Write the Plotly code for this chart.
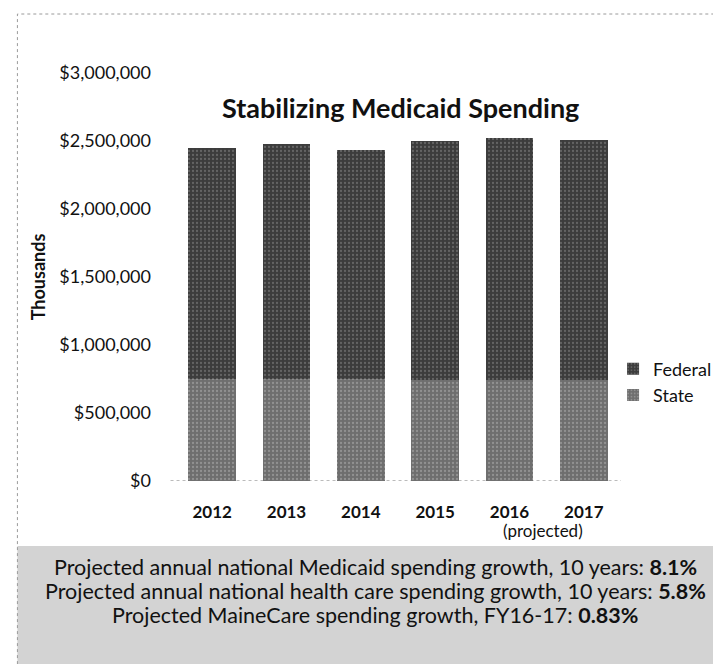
import plotly.graph_objects as go

years = ["2012", "2013", "2014", "2015", "2016", "2017"]
state = [752000, 748000, 748000, 745000, 745000, 745000]
federal = [1693000, 1732000, 1687000, 1755000, 1775000, 1765000]
tick_vals = [0, 500000, 1000000, 1500000, 2000000, 2500000, 3000000]
notes = [
    "Projected annual national Medicaid spending growth, 10 years: <b>8.1%</b>",
    "Projected annual national health care spending growth, 10 years: <b>5.8%</b>",
    "Projected MaineCare spending growth, FY16-17: <b>0.83%</b>",
]

W, H = 721, 664
ML, MR, MT, MB = 167, 104, 65, 191
ph = H - MT - MB
pw = W - ML - MR


def py(p):
    return (H - MB - p) / ph


def px(p):
    return (p - ML) / pw


FONT = "Lato"
INK = "#111111"

fig = go.Figure()
fig.add_trace(go.Bar(
    x=years, y=state, name="State", legendgroup="s",
    marker=dict(color="#7a7a7a", line=dict(width=0),
                pattern=dict(shape=".", fgcolor="#b4b4b4", bgcolor="#6e6e6e", size=4, solidity=0.25)),
))
fig.add_trace(go.Bar(
    x=years, y=federal, name="Federal", legendgroup="f",
    marker=dict(color="#484848", line=dict(width=0),
                pattern=dict(shape=".", fgcolor="#8c8c8c", bgcolor="#3c3c3c", size=4, solidity=0.25)),
))

shapes = [
    # bottom note box
    dict(type="rect", xref="paper", yref="paper", x0=px(8), x1=px(730), y0=py(538), y1=py(680),
         fillcolor="#d3d3d3", line=dict(width=0), layer="below"),
    # outer frame
    dict(type="rect", xref="paper", yref="paper", x0=px(8), x1=px(745), y0=py(700), y1=py(6),
         fillcolor="rgba(0,0,0,0)", line=dict(color="#9a9a9a", width=1, dash="dot")),
    # dotted baseline
    dict(type="line", xref="paper", yref="y", x0=-0.01, x1=1.0, y0=0, y1=0,
         line=dict(color="#777777", width=1, dash="dot")),
]

annotations = [
    dict(text="Stabilizing Medicaid Spending", xref="paper", yref="paper",
         x=px(395), y=py(99), showarrow=False, xanchor="center", yanchor="middle",
         font=dict(family=FONT, size=27, color=INK, weight="bold")),
    dict(text="(projected)", xref="x", yref="paper", x=4.45, y=py(522),
         showarrow=False, xanchor="center", yanchor="middle",
         font=dict(family=FONT, size=17, color=INK)),
]
for i, t in enumerate(notes):
    annotations.append(dict(text=t, xref="paper", yref="paper", x=px(369), y=py(559 + 24 * i),
                            showarrow=False, xanchor="center", yanchor="middle",
                            font=dict(family=FONT, size=21.5, color=INK)))

fig.update_layout(
    width=W, height=H,
    margin=dict(l=ML, r=MR, t=MT, b=MB),
    paper_bgcolor="white", plot_bgcolor="white",
    barmode="stack", bargap=0.355,
    font=dict(family=FONT, size=17, color=INK),
    showlegend=True,
    legend=dict(x=px(609), y=py(374), xanchor="left", yanchor="middle", traceorder="reversed",
                font=dict(family=FONT, size=18, color=INK), itemwidth=30,
                bgcolor="rgba(0,0,0,0)", tracegroupgap=12),
    xaxis=dict(showgrid=False, showline=False, ticks="", tickfont=dict(size=17, weight="bold"),
               ticklabelstandoff=19),
    yaxis=dict(range=[0, 3000000], tickvals=tick_vals, tickformat="$,.0f", showgrid=False,
               zeroline=False, showline=False, ticks="", ticklabelstandoff=23,
               tickfont=dict(size=18),
               title=dict(text="<b>Thousands</b>", font=dict(size=18), standoff=8)),
    shapes=shapes, annotations=annotations,
)

fig.write_html("out.html")
